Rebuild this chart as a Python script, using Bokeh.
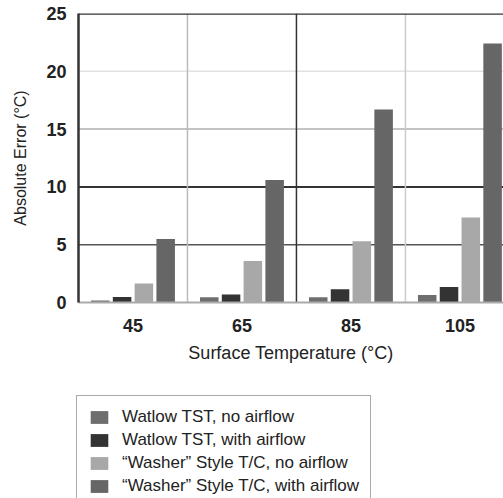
from bokeh.plotting import figure
from bokeh.models import Span, Legend, LegendItem, FixedTicker, Range1d
from bokeh.layouts import column
from bokeh.embed import file_html
from bokeh.resources import INLINE

temps = [45, 65, 85, 105]
series_names = [
    "Watlow TST, no airflow",
    "Watlow TST, with airflow",
    "\u201cWasher\u201d Style T/C, no airflow",
    "\u201cWasher\u201d Style T/C, with airflow",
]
tst_no_air = [0.17, 0.45, 0.45, 0.65]
tst_air = [0.47, 0.7, 1.15, 1.35]
washer_no_air = [1.65, 3.6, 5.3, 7.35]
washer_air = [5.5, 10.6, 16.7, 22.4]
y_ticks = [0, 5, 10, 15, 20, 25]
x_ticks = [45, 65, 85, 105]

series = [tst_no_air, tst_air, washer_no_air, washer_air]
colors = ["#6e6e6e", "#333333", "#a8a8a8", "#666666"]
offsets = [-6, -2, 2, 6]

FONT = "Liberation Sans"

p = figure(width=503, height=370, output_backend="svg", toolbar_location=None,
           x_range=Range1d(35, 113), y_range=Range1d(0, 25),
           min_border_left=78, min_border_right=0, min_border_top=13,
           min_border_bottom=68)
p.frame_align = False
p.outline_line_color = None
p.xgrid.visible = False
p.ygrid.visible = False

# grid lines
hgrid = [(5, "#555555", 1.5), (10, "#333333", 2), (15, "#b0b0b0", 1.5), (20, "#e2e2e2", 1.5)]
for loc, col, w in hgrid:
    p.add_layout(Span(location=loc, dimension="width", line_color=col, line_width=w, level="underlay"))
vgrid = [(55, "#bbbbbb", 1.5), (75, "#333333", 1.5), (95, "#cccccc", 1.5)]
for loc, col, w in vgrid:
    p.add_layout(Span(location=loc, dimension="height", line_color=col, line_width=w, level="underlay"))
p.add_layout(Span(location=25, dimension="width", line_color="#333333", line_width=2.5))

for vals, col, off in zip(series, colors, offsets):
    xs = [t + off for t in temps]
    p.vbar(x=xs, top=vals, bottom=0, width=3.4, fill_color=col, line_color=None)

# axes
p.yaxis.ticker = FixedTicker(ticks=y_ticks)
p.xaxis.ticker = FixedTicker(ticks=x_ticks)
p.yaxis.axis_line_color = "#333333"
p.yaxis.axis_line_width = 2.5
p.xaxis.axis_line_color = "#aaaaaa"
p.xaxis.axis_line_width = 2
for ax in (p.xaxis, p.yaxis):
    ax.major_tick_line_color = None
    ax.minor_tick_line_color = None
    ax.major_label_text_font = FONT
    ax.major_label_text_font_size = "18px"
    ax.major_label_text_font_style = "bold"
    ax.major_label_text_color = "#222222"
    ax.axis_label_text_font = FONT
    ax.axis_label_text_font_style = "normal"
    ax.axis_label_text_color = "#222222"
p.yaxis.major_label_standoff = 6
p.xaxis.major_label_standoff = 10
p.xaxis.axis_label = "Surface Temperature (\u00b0C)"
p.xaxis.axis_label_text_font_size = "18px"
p.xaxis.axis_label_standoff = 8
p.yaxis.axis_label = "Absolute Error (\u00b0C)"
p.yaxis.axis_label_text_font_size = "16px"
p.yaxis.axis_label_standoff = 14

# legend panel (second figure below the chart)
q = figure(width=503, height=128, output_backend="svg", toolbar_location=None,
           x_range=Range1d(0, 1), y_range=Range1d(0, 1),
           x_axis_location=None, y_axis_location=None,
           min_border_left=0, min_border_right=0, min_border_top=0, min_border_bottom=0)
q.frame_align = False
q.grid.visible = False
q.outline_line_color = None
leg_renderers = []
for vals, col, off in zip(series, colors, offsets):
    xs = [t + off for t in temps]
    leg_renderers.append(q.vbar(x=xs, top=vals, bottom=0, width=3.4, fill_color=col, line_color=None))

legend = Legend(items=[LegendItem(label=n, renderers=[r]) for n, r in zip(series_names, leg_renderers)],
                location=(76, -10))
legend.label_text_font = FONT
legend.label_text_font_size = "17px"
legend.label_text_color = "#222222"
legend.glyph_width = 22
legend.glyph_height = 16
legend.label_height = 16
legend.spacing = 3
legend.padding = 11
legend.margin = 0
legend.label_standoff = 12
legend.border_line_color = "#555555"
legend.border_line_width = 1.5
legend.background_fill_color = "white"
q.add_layout(legend, "center")

layout = column(p, q, spacing=0)
open("out.html", "w").write(file_html(layout, INLINE))
